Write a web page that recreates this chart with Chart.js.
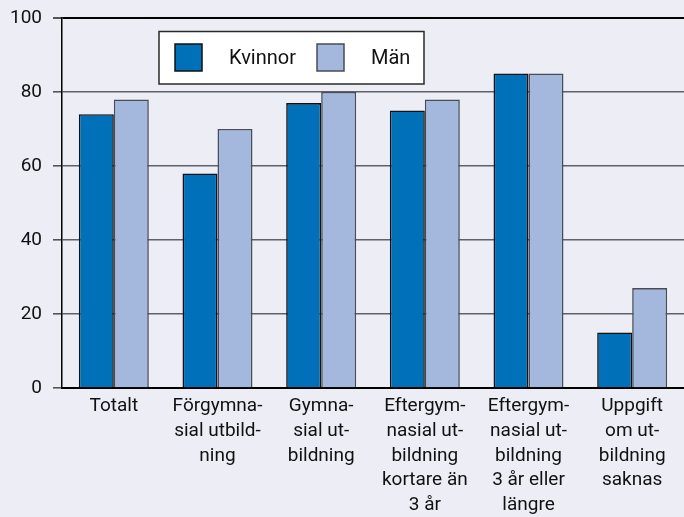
<!DOCTYPE html>
<html><head><meta charset="utf-8">
<script src="https://cdn.jsdelivr.net/npm/chart.js@4/dist/chart.umd.min.js"></script>
<style>html,body{margin:0;padding:0;background:#ecedf5;} canvas{display:block;}</style>
</head><body>
<canvas id="c" width="684" height="517"></canvas>
<script>
const categories = [
  ["Totalt"],
  ["Förgymna-","sial utbild-","ning"],
  ["Gymna-","sial ut-","bildning"],
  ["Eftergym-","nasial ut-","bildning","kortare än","3 år"],
  ["Eftergym-","nasial ut-","bildning","3 år eller","längre"],
  ["Uppgift","om ut-","bildning","saknas"]
];
const seriesNames = ["Kvinnor", "Män"];
const kvinnor = [74, 58, 77, 75, 85, 15];
const man = [78, 70, 80, 78, 85, 27];
const yTicks = [0, 20, 40, 60, 80, 100];

const FONT = "Roboto, 'Open Sans', sans-serif";

const boxLegend = {
  id: 'boxLegend',
  afterDatasetsDraw(chart, args, o) {
    const ctx = chart.ctx, a = chart.chartArea;
    const x0 = a.left + o.x, y0 = a.top + o.y;
    ctx.save();
    ctx.fillStyle = '#ffffff';
    ctx.fillRect(x0, y0, o.w, o.h);
    ctx.strokeStyle = '#2a2a2a';
    ctx.lineWidth = 1.5;
    ctx.strokeRect(x0, y0, o.w, o.h);
    ctx.font = o.fontSize + 'px ' + FONT;
    ctx.textBaseline = 'middle';
    ctx.textAlign = 'left';
    chart.data.datasets.forEach((ds, i) => {
      const sx = x0 + o.itemX[i], sy = y0 + o.sqY;
      ctx.fillStyle = ds.backgroundColor;
      ctx.fillRect(sx, sy, o.sq, o.sq);
      ctx.strokeStyle = ds.borderColor;
      ctx.lineWidth = 1.5;
      ctx.strokeRect(sx, sy, o.sq, o.sq);
      ctx.fillStyle = '#111';
      ctx.fillText(ds.label, sx + o.textGap, sy + o.sq / 2 + 1);
    });
    ctx.restore();
  }
};

new Chart(document.getElementById('c'), {
  type: 'bar',
  data: {
    labels: categories,
    datasets: [
      { label: seriesNames[0], data: kvinnor, backgroundColor: '#0070b8', borderColor: '#111111', borderWidth: 1.6,
        categoryPercentage: 0.675, barPercentage: 1 },
      { label: seriesNames[1], data: man, backgroundColor: '#a4b8de', borderColor: '#474c58', borderWidth: 1.6,
        categoryPercentage: 0.675, barPercentage: 1 }
    ]
  },
  options: {
    responsive: false,
    animation: false,
    devicePixelRatio: 1,
    layout: { padding: { top: 18, right: 0, left: 0, bottom: 0 } },
    plugins: {
      legend: { display: false },
      tooltip: { enabled: false },
      boxLegend: { x: 97, y: 13.5, w: 265, h: 52.5, itemX: [16, 158], sqY: 12.5, sq: 27, textGap: 54, fontSize: 20 }
    },
    scales: {
      x: {
        grid: { display: false },
        border: { display: true, color: '#000', width: 2 },
        ticks: { color: '#111', font: { family: FONT, size: 19, lineHeight: 1.3 }, padding: -2,
                 autoSkip: false, maxRotation: 0, minRotation: 0 },
        afterFit(s) { s.height = 129; }
      },
      y: {
        min: 0, max: 100,
        afterBuildTicks(s) { s.ticks = yTicks.map(v => ({ value: v })); },
        grid: {
          color: c => (c.tick && c.tick.value === 100) ? '#000' : '#606068',
          lineWidth: c => (c.tick && c.tick.value === 100) ? 2 : 1.6,
          tickLength: 9,
          tickColor: '#555',
          drawTicks: true
        },
        border: { display: true, color: '#000', width: 1.5 },
        ticks: { color: '#111', font: { family: FONT, size: 19 }, padding: 11 },
        afterFit(s) { s.width = 62; s.paddingTop = 0; s.paddingBottom = 0; }
      }
    }
  },
  plugins: [boxLegend]
});
</script>
</body></html>
